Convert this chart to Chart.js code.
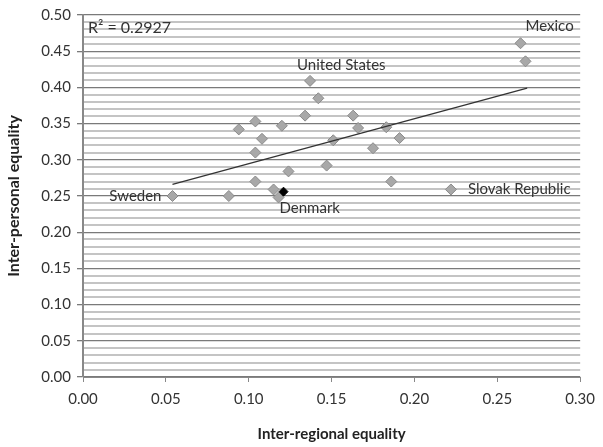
<!DOCTYPE html>
<html>
<head>
<meta charset="utf-8">
<script src="https://cdn.jsdelivr.net/npm/chart.js@4"></script>
<style>
  html, body { margin: 0; padding: 0; background: #fff; }
  .container { width: 603px; height: 447px; }
</style>
</head>
<body>
<div class="container"><canvas id="grafico" width="603" height="447"></canvas></div>
<script>
// inter-regional equality (x) / inter-personal equality (y)
const paises = ['Sweden', '', '', '', '', '', '', '', '', '', '', 'Denmark',
  'United States', '', '', '', '', '', '', '', '', '', '', 'Slovak Republic', 'Mexico', ''];
const regional = [0.054, 0.088, 0.094, 0.104, 0.108, 0.104, 0.104, 0.120, 0.124, 0.115, 0.118, 0.121,
  0.137, 0.142, 0.134, 0.163, 0.166, 0.151, 0.183, 0.191, 0.175, 0.147, 0.186, 0.222, 0.264, 0.267];
const pessoal = [0.250, 0.250, 0.342, 0.353, 0.329, 0.310, 0.270, 0.347, 0.284, 0.259, 0.248, 0.256,
  0.409, 0.385, 0.361, 0.361, 0.344, 0.327, 0.345, 0.330, 0.316, 0.292, 0.270, 0.259, 0.461, 0.436];
// linha de tendência
const tendenciaX = [0.054, 0.268];
const tendenciaY = [0.266, 0.399];
const r2Texto = 'R² = 0.2927';

const fonte = 'Lato, "Open Sans", sans-serif';

const pontos = regional.map((x, i) => ({ x: x, y: pessoal[i] }));
const destaque = paises.map(p => p === 'Denmark');

// posição dos rótulos em relação ao ponto
const rotulos = {
  'Sweden': { dx: -11, dy: 0, align: 'right' },
  'Denmark': { dx: -4, dy: 17, align: 'left' },
  'United States': { dx: -13, dy: -16, align: 'left' },
  'Slovak Republic': { dx: 17, dy: 0, align: 'left' },
  'Mexico': { dx: 5, dy: -17, align: 'left' }
};

const pluginRotulos = {
  id: 'rotulos',
  afterDatasetsDraw(chart) {
    const ctx = chart.ctx;
    const sx = chart.scales.x, sy = chart.scales.y;
    ctx.save();
    ctx.font = '15px ' + fonte;
    ctx.fillStyle = '#333';
    ctx.textBaseline = 'middle';
    paises.forEach((nome, i) => {
      if (!nome) return;
      const r = rotulos[nome];
      ctx.textAlign = r.align;
      ctx.fillText(nome, sx.getPixelForValue(regional[i]) + r.dx, sy.getPixelForValue(pessoal[i]) + r.dy);
    });
    ctx.textAlign = 'left';
    ctx.font = '16px ' + fonte;
    ctx.fillText(r2Texto, chart.chartArea.left + 5, chart.chartArea.top + 13);
    ctx.restore();
  }
};

const ehMaior = v => Math.round(v * 100) % 5 === 0;

const config = {
  type: 'scatter',
  data: {
    datasets: [{
      label: 'tendencia',
      type: 'line',
      data: tendenciaX.map((x, i) => ({ x: x, y: tendenciaY[i] })),
      borderColor: '#333',
      borderWidth: 1.3,
      pointRadius: 0,
      fill: false
    }, {
      label: 'paises',
      data: pontos,
      pointStyle: 'rectRot',
      pointRadius: destaque.map(d => d ? 4.5 : 5.5),
      backgroundColor: destaque.map(d => d ? '#000' : '#a8a8a8'),
      borderColor: destaque.map(d => d ? '#000' : '#8a8a8a'),
      borderWidth: 1
    }]
  },
  options: {
    responsive: false,
    animation: false,
    layout: { padding: { left: 2, top: 13, right: 20, bottom: 0 } },
    plugins: {
      legend: { display: false },
      tooltip: { enabled: false }
    },
    scales: {
      x: {
        type: 'linear',
        min: 0,
        max: 0.3,
        afterFit: s => { s.height = 70; },
        border: { color: '#888', width: 1 },
        grid: { drawOnChartArea: false, tickLength: 5, color: '#888' },
        ticks: {
          stepSize: 0.05,
          color: '#333',
          padding: 8,
          font: { family: fonte, size: 15 },
          callback: v => v.toFixed(2)
        },
        title: {
          display: true,
          text: 'Inter-regional equality',
          color: '#222',
          font: { family: fonte, size: 15, weight: 'bold' },
          padding: { top: 10 }
        }
      },
      y: {
        min: 0,
        max: 0.5,
        afterFit: s => { s.width = 81; },
        border: { color: '#888', width: 2 },
        grid: {
          tickLength: 6,
          color: c => ehMaior(c.tick.value) ? '#7a7a7a' : '#c4c4c4',
          lineWidth: c => ehMaior(c.tick.value) ? 1.3 : 2,
          tickColor: c => ehMaior(c.tick.value) ? '#7a7a7a' : 'rgba(0,0,0,0)'
        },
        ticks: {
          stepSize: 0.01,
          autoSkip: false,
          color: '#333',
          padding: 6,
          font: { family: fonte, size: 15 },
          callback: v => ehMaior(v) ? v.toFixed(2) : ''
        },
        title: {
          display: true,
          text: 'Inter-personal equality',
          color: '#222',
          font: { family: fonte, size: 16, weight: 'bold' },
          padding: { top: 2, bottom: 2 }
        }
      }
    }
  },
  plugins: [pluginRotulos]
};

new Chart(document.getElementById('grafico'), config);
</script>
</body>
</html>
